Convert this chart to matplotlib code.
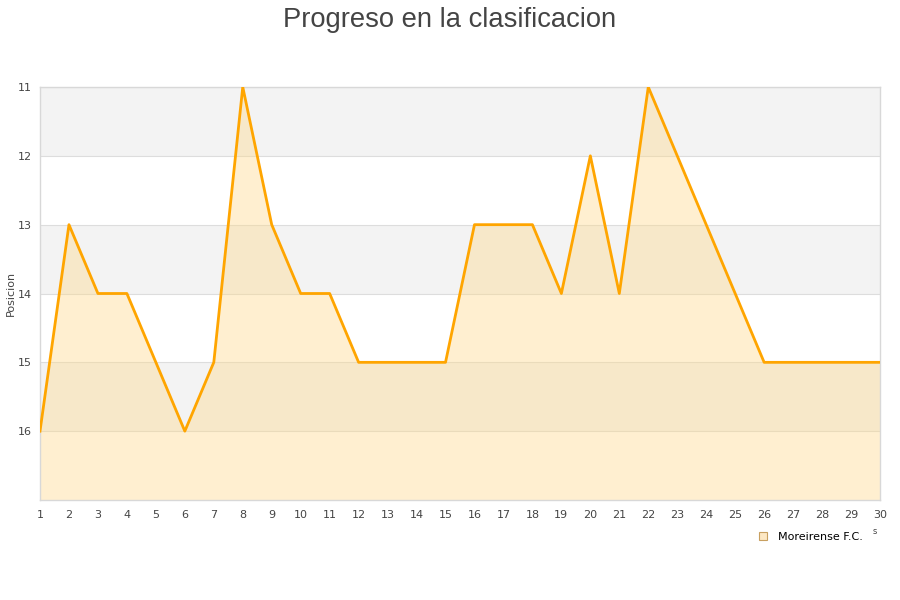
import matplotlib
matplotlib.use("Agg")
import matplotlib.pyplot as plt
from matplotlib.lines import Line2D

jornadas = list(range(1, 31))
posiciones = [16, 13, 14, 14, 15, 16, 15, 11, 13, 14, 14, 15, 15, 15, 15,
              13, 13, 13, 14, 12, 14, 11, 12, 13, 14, 15, 15, 15, 15, 15]
y_ticks = [11, 12, 13, 14, 15, 16]
team = "Moreirense F.C."
title = "Progreso en la clasificacion"
ylabel = "Posicion"

fig = plt.figure(figsize=(9, 6), dpi=100)
ax = fig.add_axes([40/900, 1-500/600, 840/900, 413/600])

ymin, ymax = 11, 17
# alternating bands
for i, y0 in enumerate(range(ymin, ymax)):
    if i % 2 == 0:
        ax.axhspan(y0, y0 + 1, color="#f3f3f3", zorder=0, lw=0)
for y in range(ymin, ymax):
    ax.axhline(y, color="#dddddd", lw=0.8, zorder=1)

ax.fill_between(jornadas, posiciones, ymax, color="#ffd98a", alpha=0.4, lw=0, zorder=2)
ax.plot(jornadas, posiciones, color="#ffa500", lw=2, zorder=3)

ax.set_xlim(1, 30)
ax.set_ylim(ymax, ymin)
ax.set_xticks(jornadas)
ax.set_yticks(y_ticks)
ax.tick_params(axis="both", length=0, labelsize=8, colors="#444444")
ax.tick_params(axis="x", pad=7)
ax.tick_params(axis="y", pad=6)
for s in ax.spines.values():
    s.set_color("#d8d8d8")
    s.set_linewidth(1)
ax.set_ylabel(ylabel, fontsize=8, color="#444444")
ax.yaxis.set_label_coords(-24/840, 0.5)

fig.text(0.5, 0.988, title, ha="center", va="top", fontsize=19.7,
         family="Liberation Sans", color="#444444")

fig.text(875/900, 1-531/600, "s", ha="center", va="center", fontsize=6, color="#444444")

handle = Line2D([], [], marker="s", linestyle="none", markersize=6,
                markerfacecolor="#fde8c4", markeredgecolor="#c8a060", markeredgewidth=0.8)
fig.legend([handle], [team], loc="center left", bbox_to_anchor=(752/900, 1-537/600),
           frameon=False, fontsize=8, handletextpad=0.8, borderpad=0, handlelength=1)

fig.savefig("out.png", dpi=100)
